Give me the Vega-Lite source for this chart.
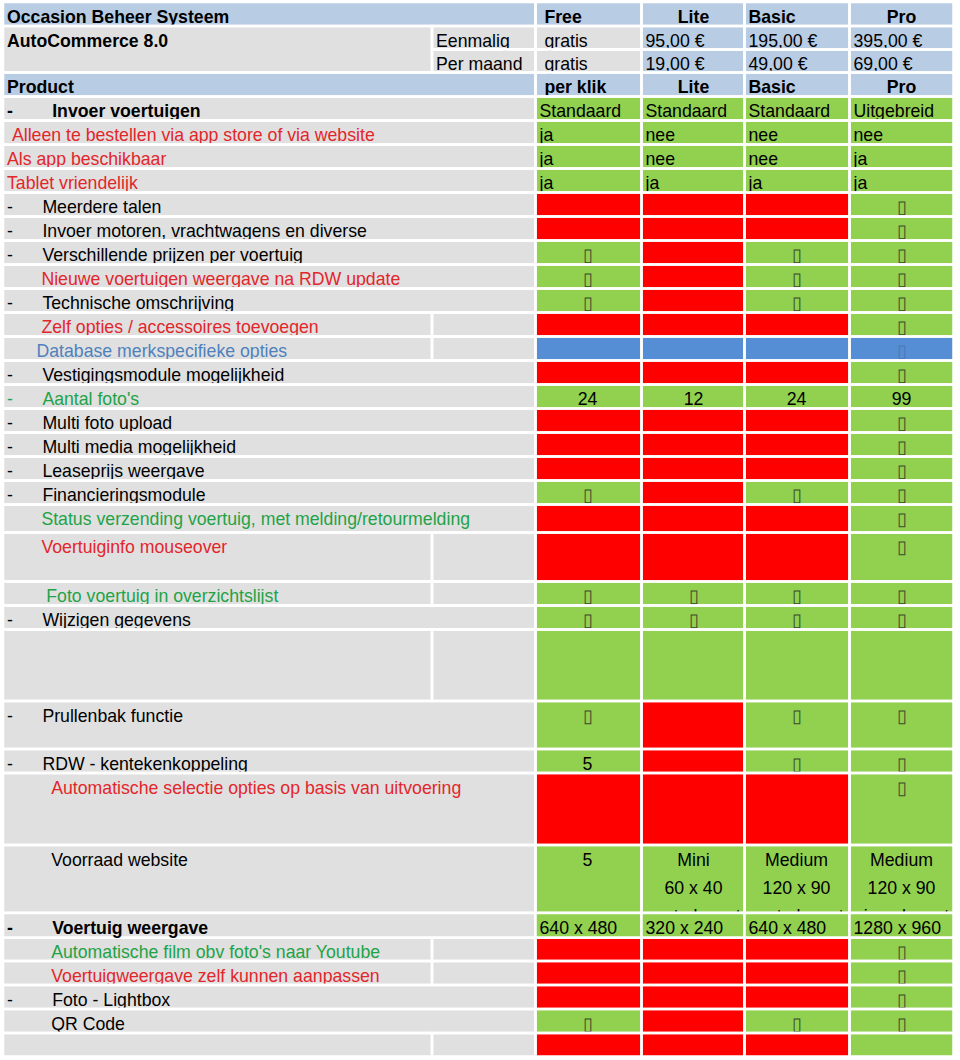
{
  "$schema": "https://vega.github.io/schema/vega-lite/v6.json",
  "width": 960,
  "height": 1060,
  "autosize": {"type": "none"},
  "padding": 0,
  "background": "white",
  "config": {"view": {"stroke": null}, "text": {"font": "Liberation Sans", "fontSize": 17.7}},
  "data": {"values": [
    {"r":0,"r2":1,"c":0,"c2":2,"tekst":"Occasion Beheer Systeem","soort":"kop","letter":"zwart","vet":true},
    {"r":0,"r2":1,"c":2,"c2":3,"tekst":"\u200b\u00a0Free","soort":"kop","letter":"zwart","vet":true},
    {"r":0,"r2":1,"c":3,"c2":4,"tekst":"Lite","soort":"kop","letter":"zwart","vet":true,"uitlijning":"center"},
    {"r":0,"r2":1,"c":4,"c2":5,"tekst":"Basic","soort":"kop","letter":"zwart","vet":true},
    {"r":0,"r2":1,"c":5,"c2":6,"tekst":"Pro","soort":"kop","letter":"zwart","vet":true,"uitlijning":"center"},

    {"r":1,"r2":3,"c":0,"c2":1,"tekst":"AutoCommerce 8.0","soort":"label","letter":"zwart","vet":true},
    {"r":1,"r2":2,"c":1,"c2":2,"tekst":"Eenmalig","soort":"label","letter":"zwart"},
    {"r":1,"r2":2,"c":2,"c2":3,"tekst":"\u200b\u00a0gratis","soort":"label","letter":"zwart"},
    {"r":1,"r2":2,"c":3,"c2":4,"tekst":"95,00 €","soort":"prijs","letter":"zwart"},
    {"r":1,"r2":2,"c":4,"c2":5,"tekst":"195,00 €","soort":"prijs","letter":"zwart"},
    {"r":1,"r2":2,"c":5,"c2":6,"tekst":"395,00 €","soort":"prijs","letter":"zwart"},

    {"r":2,"r2":3,"c":1,"c2":2,"tekst":"Per maand","soort":"label","letter":"zwart"},
    {"r":2,"r2":3,"c":2,"c2":3,"tekst":"\u200b\u00a0gratis","soort":"label","letter":"zwart"},
    {"r":2,"r2":3,"c":3,"c2":4,"tekst":"19,00 €","soort":"prijs","letter":"zwart"},
    {"r":2,"r2":3,"c":4,"c2":5,"tekst":"49,00 €","soort":"prijs","letter":"zwart"},
    {"r":2,"r2":3,"c":5,"c2":6,"tekst":"69,00 €","soort":"prijs","letter":"zwart"},

    {"r":3,"r2":4,"c":0,"c2":2,"tekst":"Product","soort":"kop","letter":"zwart","vet":true},
    {"r":3,"r2":4,"c":2,"c2":3,"tekst":"\u200b\u00a0per klik","soort":"kop","letter":"zwart","vet":true},
    {"r":3,"r2":4,"c":3,"c2":4,"tekst":"Lite","soort":"kop","letter":"zwart","vet":true,"uitlijning":"center"},
    {"r":3,"r2":4,"c":4,"c2":5,"tekst":"Basic","soort":"kop","letter":"zwart","vet":true},
    {"r":3,"r2":4,"c":5,"c2":6,"tekst":"Pro","soort":"kop","letter":"zwart","vet":true,"uitlijning":"center"},

    {"r":4,"r2":5,"c":0,"c2":2,"tekst":"-\u00a0\u00a0\u00a0\u00a0\u00a0\u00a0\u00a0\u00a0Invoer voertuigen","soort":"label","letter":"zwart","vet":true},
    {"r":4,"r2":5,"c":2,"c2":3,"tekst":"Standaard","soort":"ja","letter":"zwart"},
    {"r":4,"r2":5,"c":3,"c2":4,"tekst":"Standaard","soort":"ja","letter":"zwart"},
    {"r":4,"r2":5,"c":4,"c2":5,"tekst":"Standaard","soort":"ja","letter":"zwart"},
    {"r":4,"r2":5,"c":5,"c2":6,"tekst":"Uitgebreid","soort":"ja","letter":"zwart"},

    {"r":5,"r2":6,"c":0,"c2":2,"tekst":"\u200b\u00a0Alleen te bestellen via app store of via website","soort":"label","letter":"rood"},
    {"r":5,"r2":6,"c":2,"c2":3,"tekst":"ja","soort":"ja","letter":"zwart"},
    {"r":5,"r2":6,"c":3,"c2":4,"tekst":"nee","soort":"ja","letter":"zwart"},
    {"r":5,"r2":6,"c":4,"c2":5,"tekst":"nee","soort":"ja","letter":"zwart"},
    {"r":5,"r2":6,"c":5,"c2":6,"tekst":"nee","soort":"ja","letter":"zwart"},

    {"r":6,"r2":7,"c":0,"c2":2,"tekst":"Als app beschikbaar","soort":"label","letter":"rood"},
    {"r":6,"r2":7,"c":2,"c2":3,"tekst":"ja","soort":"ja","letter":"zwart"},
    {"r":6,"r2":7,"c":3,"c2":4,"tekst":"nee","soort":"ja","letter":"zwart"},
    {"r":6,"r2":7,"c":4,"c2":5,"tekst":"nee","soort":"ja","letter":"zwart"},
    {"r":6,"r2":7,"c":5,"c2":6,"tekst":"ja","soort":"ja","letter":"zwart"},

    {"r":7,"r2":8,"c":0,"c2":2,"tekst":"Tablet vriendelijk","soort":"label","letter":"rood"},
    {"r":7,"r2":8,"c":2,"c2":3,"tekst":"ja","soort":"ja","letter":"zwart"},
    {"r":7,"r2":8,"c":3,"c2":4,"tekst":"ja","soort":"ja","letter":"zwart"},
    {"r":7,"r2":8,"c":4,"c2":5,"tekst":"ja","soort":"ja","letter":"zwart"},
    {"r":7,"r2":8,"c":5,"c2":6,"tekst":"ja","soort":"ja","letter":"zwart"},

    {"r":8,"r2":9,"c":0,"c2":2,"tekst":"-\u00a0\u00a0\u00a0\u00a0\u00a0\u00a0Meerdere talen","soort":"label","letter":"zwart"},
    {"r":8,"r2":9,"c":2,"c2":3,"soort":"nee"},
    {"r":8,"r2":9,"c":3,"c2":4,"soort":"nee"},
    {"r":8,"r2":9,"c":4,"c2":5,"soort":"nee"},
    {"r":8,"r2":9,"c":5,"c2":6,"tekst":"\u25af","soort":"ja","letter":"vink","uitlijning":"center"},

    {"r":9,"r2":10,"c":0,"c2":2,"tekst":"-\u00a0\u00a0\u00a0\u00a0\u00a0\u00a0Invoer motoren, vrachtwagens en diverse","soort":"label","letter":"zwart"},
    {"r":9,"r2":10,"c":2,"c2":3,"soort":"nee"},
    {"r":9,"r2":10,"c":3,"c2":4,"soort":"nee"},
    {"r":9,"r2":10,"c":4,"c2":5,"soort":"nee"},
    {"r":9,"r2":10,"c":5,"c2":6,"tekst":"\u25af","soort":"ja","letter":"vink","uitlijning":"center"},

    {"r":10,"r2":11,"c":0,"c2":2,"tekst":"-\u00a0\u00a0\u00a0\u00a0\u00a0\u00a0Verschillende prijzen per voertuig","soort":"label","letter":"zwart"},
    {"r":10,"r2":11,"c":2,"c2":3,"tekst":"\u25af","soort":"ja","letter":"vink","uitlijning":"center"},
    {"r":10,"r2":11,"c":3,"c2":4,"soort":"nee"},
    {"r":10,"r2":11,"c":4,"c2":5,"tekst":"\u25af","soort":"ja","letter":"vink","uitlijning":"center"},
    {"r":10,"r2":11,"c":5,"c2":6,"tekst":"\u25af","soort":"ja","letter":"vink","uitlijning":"center"},

    {"r":11,"r2":12,"c":0,"c2":2,"tekst":"\u200b\u00a0\u00a0\u00a0\u00a0\u00a0\u00a0\u00a0Nieuwe voertuigen weergave na RDW update","soort":"label","letter":"rood"},
    {"r":11,"r2":12,"c":2,"c2":3,"tekst":"\u25af","soort":"ja","letter":"vink","uitlijning":"center"},
    {"r":11,"r2":12,"c":3,"c2":4,"soort":"nee"},
    {"r":11,"r2":12,"c":4,"c2":5,"tekst":"\u25af","soort":"ja","letter":"vink","uitlijning":"center"},
    {"r":11,"r2":12,"c":5,"c2":6,"tekst":"\u25af","soort":"ja","letter":"vink","uitlijning":"center"},

    {"r":12,"r2":13,"c":0,"c2":2,"tekst":"-\u00a0\u00a0\u00a0\u00a0\u00a0\u00a0Technische omschrijving","soort":"label","letter":"zwart"},
    {"r":12,"r2":13,"c":2,"c2":3,"tekst":"\u25af","soort":"ja","letter":"vink","uitlijning":"center"},
    {"r":12,"r2":13,"c":3,"c2":4,"soort":"nee"},
    {"r":12,"r2":13,"c":4,"c2":5,"tekst":"\u25af","soort":"ja","letter":"vink","uitlijning":"center"},
    {"r":12,"r2":13,"c":5,"c2":6,"tekst":"\u25af","soort":"ja","letter":"vink","uitlijning":"center"},

    {"r":13,"r2":14,"c":0,"c2":1,"tekst":"\u200b\u00a0\u00a0\u00a0\u00a0\u00a0\u00a0\u00a0Zelf opties / accessoires toevoegen","soort":"label","letter":"rood"},
    {"r":13,"r2":14,"c":1,"c2":2,"soort":"label"},
    {"r":13,"r2":14,"c":2,"c2":3,"soort":"nee"},
    {"r":13,"r2":14,"c":3,"c2":4,"soort":"nee"},
    {"r":13,"r2":14,"c":4,"c2":5,"soort":"nee"},
    {"r":13,"r2":14,"c":5,"c2":6,"tekst":"\u25af","soort":"ja","letter":"vink","uitlijning":"center"},

    {"r":14,"r2":15,"c":0,"c2":1,"tekst":"\u200b\u00a0\u00a0\u00a0\u00a0\u00a0\u00a0Database merkspecifieke opties","soort":"label","letter":"blauw"},
    {"r":14,"r2":15,"c":1,"c2":2,"soort":"label"},
    {"r":14,"r2":15,"c":2,"c2":3,"soort":"db"},
    {"r":14,"r2":15,"c":3,"c2":4,"soort":"db"},
    {"r":14,"r2":15,"c":4,"c2":5,"soort":"db"},
    {"r":14,"r2":15,"c":5,"c2":6,"tekst":"\u25af","soort":"db","letter":"vaag","uitlijning":"center"},

    {"r":15,"r2":16,"c":0,"c2":2,"tekst":"-\u00a0\u00a0\u00a0\u00a0\u00a0\u00a0Vestigingsmodule mogelijkheid","soort":"label","letter":"zwart"},
    {"r":15,"r2":16,"c":2,"c2":3,"soort":"nee"},
    {"r":15,"r2":16,"c":3,"c2":4,"soort":"nee"},
    {"r":15,"r2":16,"c":4,"c2":5,"soort":"nee"},
    {"r":15,"r2":16,"c":5,"c2":6,"tekst":"\u25af","soort":"ja","letter":"vink","uitlijning":"center"},

    {"r":16,"r2":17,"c":0,"c2":2,"tekst":"-\u00a0\u00a0\u00a0\u00a0\u00a0\u00a0Aantal foto's","soort":"label","letter":"groen"},
    {"r":16,"r2":17,"c":2,"c2":3,"tekst":"24","soort":"ja","letter":"zwart","uitlijning":"center"},
    {"r":16,"r2":17,"c":3,"c2":4,"tekst":"12","soort":"ja","letter":"zwart","uitlijning":"center"},
    {"r":16,"r2":17,"c":4,"c2":5,"tekst":"24","soort":"ja","letter":"zwart","uitlijning":"center"},
    {"r":16,"r2":17,"c":5,"c2":6,"tekst":"99","soort":"ja","letter":"zwart","uitlijning":"center"},

    {"r":17,"r2":18,"c":0,"c2":2,"tekst":"-\u00a0\u00a0\u00a0\u00a0\u00a0\u00a0Multi foto upload","soort":"label","letter":"zwart"},
    {"r":17,"r2":18,"c":2,"c2":3,"soort":"nee"},
    {"r":17,"r2":18,"c":3,"c2":4,"soort":"nee"},
    {"r":17,"r2":18,"c":4,"c2":5,"soort":"nee"},
    {"r":17,"r2":18,"c":5,"c2":6,"tekst":"\u25af","soort":"ja","letter":"vink","uitlijning":"center"},

    {"r":18,"r2":19,"c":0,"c2":2,"tekst":"-\u00a0\u00a0\u00a0\u00a0\u00a0\u00a0Multi media mogelijkheid","soort":"label","letter":"zwart"},
    {"r":18,"r2":19,"c":2,"c2":3,"soort":"nee"},
    {"r":18,"r2":19,"c":3,"c2":4,"soort":"nee"},
    {"r":18,"r2":19,"c":4,"c2":5,"soort":"nee"},
    {"r":18,"r2":19,"c":5,"c2":6,"tekst":"\u25af","soort":"ja","letter":"vink","uitlijning":"center"},

    {"r":19,"r2":20,"c":0,"c2":2,"tekst":"-\u00a0\u00a0\u00a0\u00a0\u00a0\u00a0Leaseprijs weergave","soort":"label","letter":"zwart"},
    {"r":19,"r2":20,"c":2,"c2":3,"soort":"nee"},
    {"r":19,"r2":20,"c":3,"c2":4,"soort":"nee"},
    {"r":19,"r2":20,"c":4,"c2":5,"soort":"nee"},
    {"r":19,"r2":20,"c":5,"c2":6,"tekst":"\u25af","soort":"ja","letter":"vink","uitlijning":"center"},

    {"r":20,"r2":21,"c":0,"c2":2,"tekst":"-\u00a0\u00a0\u00a0\u00a0\u00a0\u00a0Financieringsmodule","soort":"label","letter":"zwart"},
    {"r":20,"r2":21,"c":2,"c2":3,"tekst":"\u25af","soort":"ja","letter":"vink","uitlijning":"center"},
    {"r":20,"r2":21,"c":3,"c2":4,"soort":"nee"},
    {"r":20,"r2":21,"c":4,"c2":5,"tekst":"\u25af","soort":"ja","letter":"vink","uitlijning":"center"},
    {"r":20,"r2":21,"c":5,"c2":6,"tekst":"\u25af","soort":"ja","letter":"vink","uitlijning":"center"},

    {"r":21,"r2":22,"c":0,"c2":2,"tekst":"\u200b\u00a0\u00a0\u00a0\u00a0\u00a0\u00a0\u00a0Status verzending voertuig, met melding/retourmelding","soort":"label","letter":"groen"},
    {"r":21,"r2":22,"c":2,"c2":3,"soort":"nee"},
    {"r":21,"r2":22,"c":3,"c2":4,"soort":"nee"},
    {"r":21,"r2":22,"c":4,"c2":5,"soort":"nee"},
    {"r":21,"r2":22,"c":5,"c2":6,"tekst":"\u25af","soort":"ja","letter":"vink","uitlijning":"center"},

    {"r":22,"r2":23,"c":0,"c2":1,"tekst":"\u200b\u00a0\u00a0\u00a0\u00a0\u00a0\u00a0\u00a0Voertuiginfo mouseover","soort":"label","letter":"rood"},
    {"r":22,"r2":23,"c":1,"c2":2,"soort":"label"},
    {"r":22,"r2":23,"c":2,"c2":3,"soort":"nee"},
    {"r":22,"r2":23,"c":3,"c2":4,"soort":"nee"},
    {"r":22,"r2":23,"c":4,"c2":5,"soort":"nee"},
    {"r":22,"r2":23,"c":5,"c2":6,"tekst":"\u25af","soort":"ja","letter":"vink","uitlijning":"center"},

    {"r":23,"r2":24,"c":0,"c2":1,"tekst":"\u200b\u00a0\u00a0\u00a0\u00a0\u00a0\u00a0\u00a0\u00a0Foto voertuig in overzichtslijst","soort":"label","letter":"groen"},
    {"r":23,"r2":24,"c":1,"c2":2,"soort":"label"},
    {"r":23,"r2":24,"c":2,"c2":3,"tekst":"\u25af","soort":"ja","letter":"vink","uitlijning":"center"},
    {"r":23,"r2":24,"c":3,"c2":4,"tekst":"\u25af","soort":"ja","letter":"vink","uitlijning":"center"},
    {"r":23,"r2":24,"c":4,"c2":5,"tekst":"\u25af","soort":"ja","letter":"vink","uitlijning":"center"},
    {"r":23,"r2":24,"c":5,"c2":6,"tekst":"\u25af","soort":"ja","letter":"vink","uitlijning":"center"},

    {"r":24,"r2":25,"c":0,"c2":2,"tekst":"-\u00a0\u00a0\u00a0\u00a0\u00a0\u00a0Wijzigen gegevens","soort":"label","letter":"zwart"},
    {"r":24,"r2":25,"c":2,"c2":3,"tekst":"\u25af","soort":"ja","letter":"vink","uitlijning":"center"},
    {"r":24,"r2":25,"c":3,"c2":4,"tekst":"\u25af","soort":"ja","letter":"vink","uitlijning":"center"},
    {"r":24,"r2":25,"c":4,"c2":5,"tekst":"\u25af","soort":"ja","letter":"vink","uitlijning":"center"},
    {"r":24,"r2":25,"c":5,"c2":6,"tekst":"\u25af","soort":"ja","letter":"vink","uitlijning":"center"},

    {"r":25,"r2":26,"c":0,"c2":1,"soort":"label"},
    {"r":25,"r2":26,"c":1,"c2":2,"soort":"label"},
    {"r":25,"r2":26,"c":2,"c2":3,"soort":"ja"},
    {"r":25,"r2":26,"c":3,"c2":4,"soort":"ja"},
    {"r":25,"r2":26,"c":4,"c2":5,"soort":"ja"},
    {"r":25,"r2":26,"c":5,"c2":6,"soort":"ja"},

    {"r":26,"r2":27,"c":0,"c2":2,"tekst":"-\u00a0\u00a0\u00a0\u00a0\u00a0\u00a0Prullenbak functie","soort":"label","letter":"zwart"},
    {"r":26,"r2":27,"c":2,"c2":3,"tekst":"\u25af","soort":"ja","letter":"vink","uitlijning":"center"},
    {"r":26,"r2":27,"c":3,"c2":4,"soort":"nee"},
    {"r":26,"r2":27,"c":4,"c2":5,"tekst":"\u25af","soort":"ja","letter":"vink","uitlijning":"center"},
    {"r":26,"r2":27,"c":5,"c2":6,"tekst":"\u25af","soort":"ja","letter":"vink","uitlijning":"center"},

    {"r":27,"r2":28,"c":0,"c2":2,"tekst":"-\u00a0\u00a0\u00a0\u00a0\u00a0\u00a0RDW - kentekenkoppeling","soort":"label","letter":"zwart"},
    {"r":27,"r2":28,"c":2,"c2":3,"tekst":"5","soort":"ja","letter":"zwart","uitlijning":"center"},
    {"r":27,"r2":28,"c":3,"c2":4,"soort":"nee"},
    {"r":27,"r2":28,"c":4,"c2":5,"tekst":"\u25af","soort":"ja","letter":"vink","uitlijning":"center"},
    {"r":27,"r2":28,"c":5,"c2":6,"tekst":"\u25af","soort":"ja","letter":"vink","uitlijning":"center"},

    {"r":28,"r2":29,"c":0,"c2":2,"tekst":"\u200b\u00a0\u00a0\u00a0\u00a0\u00a0\u00a0\u00a0\u00a0\u00a0Automatische selectie opties op basis van uitvoering","soort":"label","letter":"rood"},
    {"r":28,"r2":29,"c":2,"c2":3,"soort":"nee"},
    {"r":28,"r2":29,"c":3,"c2":4,"soort":"nee"},
    {"r":28,"r2":29,"c":4,"c2":5,"soort":"nee"},
    {"r":28,"r2":29,"c":5,"c2":6,"tekst":"\u25af","soort":"ja","letter":"vink","uitlijning":"center"},

    {"r":29,"r2":30,"c":0,"c2":2,"tekst":"\u200b\u00a0\u00a0\u00a0\u00a0\u00a0\u00a0\u00a0\u00a0\u00a0Voorraad website","soort":"label","letter":"zwart"},
    {"r":29,"r2":30,"c":2,"c2":3,"tekst":"5","soort":"ja","letter":"zwart","uitlijning":"center"},
    {"r":29,"r2":30,"c":3,"c2":4,"tekst":["Mini","60 x 40","vaste layout"],"soort":"ja","letter":"zwart","uitlijning":"center"},
    {"r":29,"r2":30,"c":4,"c2":5,"tekst":["Medium","120 x 90","vaste layout"],"soort":"ja","letter":"zwart","uitlijning":"center"},
    {"r":29,"r2":30,"c":5,"c2":6,"tekst":["Medium","120 x 90","eigen layout"],"soort":"ja","letter":"zwart","uitlijning":"center"},

    {"r":30,"r2":31,"c":0,"c2":2,"tekst":"-\u00a0\u00a0\u00a0\u00a0\u00a0\u00a0\u00a0\u00a0Voertuig weergave","soort":"label","letter":"zwart","vet":true},
    {"r":30,"r2":31,"c":2,"c2":3,"tekst":"640 x 480","soort":"ja","letter":"zwart"},
    {"r":30,"r2":31,"c":3,"c2":4,"tekst":"320 x 240","soort":"ja","letter":"zwart"},
    {"r":30,"r2":31,"c":4,"c2":5,"tekst":"640 x 480","soort":"ja","letter":"zwart"},
    {"r":30,"r2":31,"c":5,"c2":6,"tekst":"1280 x 960","soort":"ja","letter":"zwart"},

    {"r":31,"r2":32,"c":0,"c2":1,"tekst":"\u200b\u00a0\u00a0\u00a0\u00a0\u00a0\u00a0\u00a0\u00a0\u00a0Automatische film obv foto's naar Youtube","soort":"label","letter":"groen"},
    {"r":31,"r2":32,"c":1,"c2":2,"soort":"label"},
    {"r":31,"r2":32,"c":2,"c2":3,"soort":"nee"},
    {"r":31,"r2":32,"c":3,"c2":4,"soort":"nee"},
    {"r":31,"r2":32,"c":4,"c2":5,"soort":"nee"},
    {"r":31,"r2":32,"c":5,"c2":6,"tekst":"\u25af","soort":"ja","letter":"vink","uitlijning":"center"},

    {"r":32,"r2":33,"c":0,"c2":1,"tekst":"\u200b\u00a0\u00a0\u00a0\u00a0\u00a0\u00a0\u00a0\u00a0\u00a0Voertuigweergave zelf kunnen aanpassen","soort":"label","letter":"rood"},
    {"r":32,"r2":33,"c":1,"c2":2,"soort":"label"},
    {"r":32,"r2":33,"c":2,"c2":3,"soort":"nee"},
    {"r":32,"r2":33,"c":3,"c2":4,"soort":"nee"},
    {"r":32,"r2":33,"c":4,"c2":5,"soort":"nee"},
    {"r":32,"r2":33,"c":5,"c2":6,"tekst":"\u25af","soort":"ja","letter":"vink","uitlijning":"center"},

    {"r":33,"r2":34,"c":0,"c2":2,"tekst":"-\u00a0\u00a0\u00a0\u00a0\u00a0\u00a0\u00a0\u00a0Foto - Lightbox","soort":"label","letter":"zwart"},
    {"r":33,"r2":34,"c":2,"c2":3,"soort":"nee"},
    {"r":33,"r2":34,"c":3,"c2":4,"soort":"nee"},
    {"r":33,"r2":34,"c":4,"c2":5,"soort":"nee"},
    {"r":33,"r2":34,"c":5,"c2":6,"tekst":"\u25af","soort":"ja","letter":"vink","uitlijning":"center"},

    {"r":34,"r2":35,"c":0,"c2":2,"tekst":"\u200b\u00a0\u00a0\u00a0\u00a0\u00a0\u00a0\u00a0\u00a0\u00a0QR Code","soort":"label","letter":"zwart"},
    {"r":34,"r2":35,"c":2,"c2":3,"tekst":"\u25af","soort":"ja","letter":"vink","uitlijning":"center"},
    {"r":34,"r2":35,"c":3,"c2":4,"soort":"nee"},
    {"r":34,"r2":35,"c":4,"c2":5,"tekst":"\u25af","soort":"ja","letter":"vink","uitlijning":"center"},
    {"r":34,"r2":35,"c":5,"c2":6,"tekst":"\u25af","soort":"ja","letter":"vink","uitlijning":"center"},

    {"r":35,"r2":36,"c":0,"c2":1,"soort":"label"},
    {"r":35,"r2":36,"c":1,"c2":2,"soort":"label"},
    {"r":35,"r2":36,"c":2,"c2":3,"soort":"nee"},
    {"r":35,"r2":36,"c":3,"c2":4,"soort":"nee"},
    {"r":35,"r2":36,"c":4,"c2":5,"soort":"nee"},
    {"r":35,"r2":36,"c":5,"c2":6,"soort":"ja"}
  ]},
  "encoding": {
    "x": {"field": "c", "type": "quantitative", "axis": null,
      "scale": {"domain": [0,1,2,3,4,5,6], "range": [3,432,535.5,641.5,744.5,849.5,953.5], "zero": false, "nice": false}},
    "y": {"field": "r", "type": "quantitative", "axis": null,
      "scale": {"domain": [0,1,2,3,4,5,6,7,8,9,10,11,12,13,14,15,16,17,18,19,20,21,22,23,24,25,26,27,28,29,30,31,32,33,34,35,36],
        "range": [2,26,49.5,72.5,96.5,120.5,144.5,168.5,192.5,216.5,240.5,264.5,288.5,312.5,336.5,360.5,384.5,408.5,432.5,456.5,480.5,504.5,532.5,581.5,605.5,629.5,701,749,773,845,913,937.5,961,985,1009,1033,1056.5],
        "zero": false, "nice": false}}
  },
  "layer": [
    {
      "mark": {"type": "rect"},
      "encoding": {
        "x2": {"field": "c2"},
        "y2": {"field": "r2"},
        "color": {"field": "soort", "type": "nominal", "legend": null,
          "scale": {"domain": ["kop","prijs","label","ja","nee","db"], "range": ["#B8CCE4","#B8CCE4","#E0E0E0","#92D050","#FF0000","#558ED5"]}}
      }
    },
    {
      "transform": [{"filter": "datum.tekst != null && datum.tekst != ''"}],
      "mark": {"type": "text", "baseline": "alphabetic", "dy": 20.5, "lineHeight": 28,
        "align": {"expr": "datum.uitlijning == 'center' ? 'center' : 'left'"},
        "dx": {"expr": "datum.uitlijning == 'center' ? 52 : 4"},
        "fontWeight": {"expr": "datum.vet ? 'bold' : 'normal'"}},
      "encoding": {
        "text": {"field": "tekst", "type": "nominal"},
        "color": {"field": "letter", "type": "nominal", "legend": null,
          "scale": {"domain": ["zwart","rood","groen","blauw","vink","vaag"], "range": ["#000000","#E3262B","#1FA347","#4F81BD","#3C4A2E","#4A78B8"]}}
      }
    },
    {
      "mark": {"type": "rect", "filled": false, "stroke": "white", "strokeWidth": 2.5},
      "encoding": {"x2": {"field": "c2"}, "y2": {"field": "r2"}}
    },
    {
      "transform": [{"filter": "datum.r == 30"}],
      "mark": {"type": "rect", "stroke": "white", "strokeWidth": 2.5},
      "encoding": {
        "x2": {"field": "c2"},
        "y2": {"field": "r2"},
        "color": {"field": "soort", "type": "nominal", "legend": null,
          "scale": {"domain": ["kop","prijs","label","ja","nee","db"], "range": ["#B8CCE4","#B8CCE4","#E0E0E0","#92D050","#FF0000","#558ED5"]}}
      }
    },
    {
      "transform": [{"filter": "datum.r == 30 && datum.tekst != null && datum.tekst != ''"}],
      "mark": {"type": "text", "baseline": "alphabetic", "dy": 20.5, "lineHeight": 28,
        "align": {"expr": "datum.uitlijning == 'center' ? 'center' : 'left'"},
        "dx": {"expr": "datum.uitlijning == 'center' ? 52 : 4"},
        "fontWeight": {"expr": "datum.vet ? 'bold' : 'normal'"}},
      "encoding": {
        "text": {"field": "tekst", "type": "nominal"},
        "color": {"field": "letter", "type": "nominal", "legend": null,
          "scale": {"domain": ["zwart","rood","groen","blauw","vink","vaag"], "range": ["#000000","#E3262B","#1FA347","#4F81BD","#3C4A2E","#4A78B8"]}}
      }
    }
  ],
  "resolve": {"scale": {"color": "independent"}}
}
